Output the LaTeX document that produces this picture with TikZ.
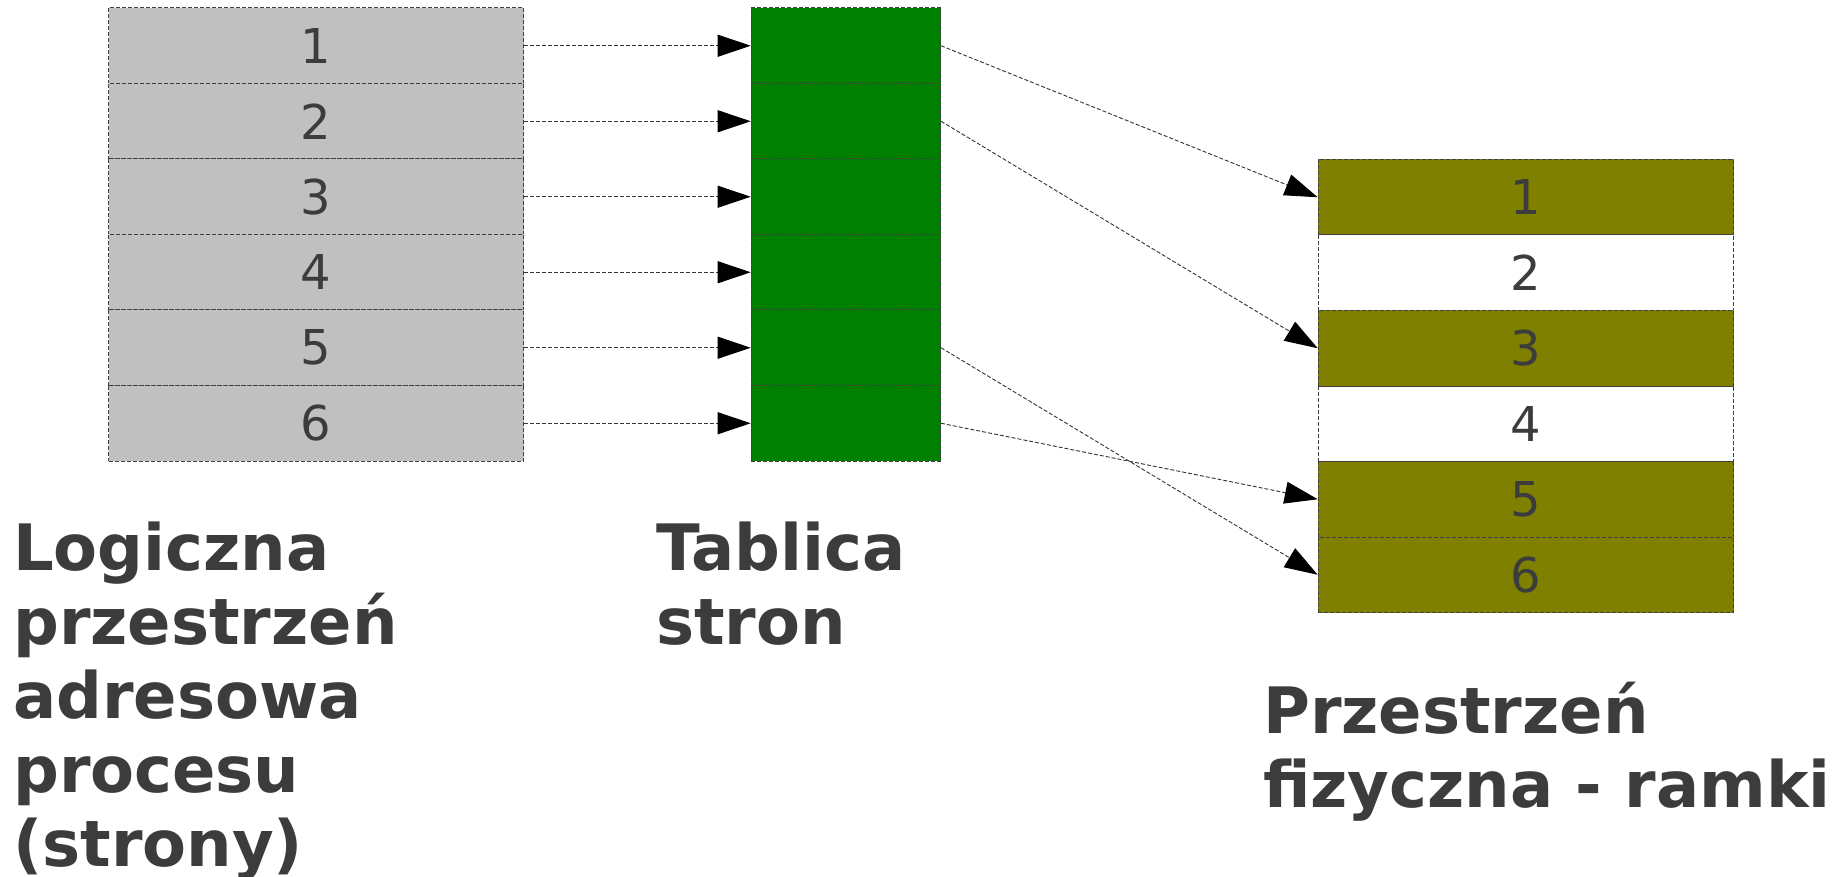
\documentclass[tikz,border=0pt]{standalone}
\usepackage{fontspec}
\setmainfont{DejaVu Sans}
\usetikzlibrary{arrows.meta}
\definecolor{txt}{HTML}{3C3C3C}
\definecolor{pagegray}{HTML}{C0C0C0}
\definecolor{ptgreen}{HTML}{008000}
\definecolor{frolive}{HTML}{808000}
\tikzset{
  cell/.style={draw=black!75, dash pattern=on 4pt off 2pt, line width=1pt, inner sep=0pt,
    anchor=north west, minimum height=75.5pt, text=txt, font=\fontsize{48}{56}\selectfont},
  pagecell/.style={cell, fill=pagegray, minimum width=415pt},
  tabcell/.style={cell, fill=ptgreen, minimum width=189.3pt},
  framecell/.style={cell, minimum width=415.3pt},
  conn/.style={draw=black!80, dash pattern=on 4pt off 2pt, line width=0.9pt,
    -{Triangle[length=33pt,width=22pt,color=black]}},
  label/.style={anchor=base west, align=left, inner sep=0pt, text=txt,
    font=\bfseries\fontsize{64}{74}\selectfont}
}
\begin{document}
\begin{tikzpicture}[x=1pt,y=-1pt]
\useasboundingbox (0,0) rectangle (1840,877);
\foreach \i in {1,...,6} {
  \node[pagecell] (p\i) at (108,{7.5+75.5*(\i-1)}) {\i};
  \node[tabcell] (t\i) at (750.7,{7.5+75.5*(\i-1)}) {};
}
\node[framecell, fill=frolive] (f1) at (1317.7,159) {1};
\node[framecell] (f2) at (1317.7,234.5) {2};
\node[framecell, fill=frolive] (f3) at (1317.7,310) {3};
\node[framecell] (f4) at (1317.7,385.5) {4};
\node[framecell, fill=frolive] (f5) at (1317.7,461) {5};
\node[framecell, fill=frolive] (f6) at (1317.7,536.5) {6};
\foreach \i in {1,...,6} {
  \draw[conn] (p\i.east) -- (t\i.west);
}
\draw[conn] (t1.east) -- (f1.west);
\draw[conn] (t2.east) -- (f3.west);
\draw[conn] (t5.east) -- (f6.west);
\draw[conn] (t6.east) -- (f5.west);
\node[label] (lg) at (13,866) {Logiczna\\przestrzeń\\adresowa\\procesu\\(strony)};
\node[label] (tb) at (656,644) {Tablica\\stron};
\node[label] (fz) at (1263,807) {Przestrzeń\\fizyczna - ramki};
\end{tikzpicture}
\end{document}
